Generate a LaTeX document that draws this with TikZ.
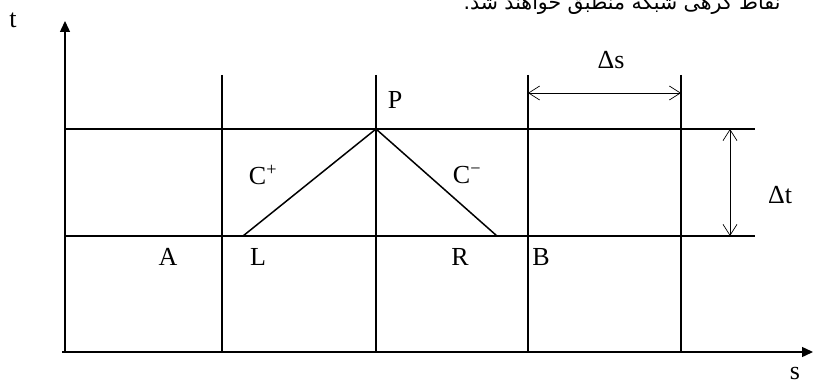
\documentclass[tikz,border=0pt]{standalone}
\usepackage{fontspec}
\setmainfont{Liberation Serif}
\newfontfamily\arabicfont[Script=Arabic]{DejaVu Sans}
\TeXXeTstate=1
\usetikzlibrary{arrows.meta}
\begin{document}
\begin{tikzpicture}[x=1pt,y=-1pt,
  gridline/.style={line width=1.1pt},
  axisline/.style={line width=1.4pt,-{Triangle[length=11pt,width=10pt]}},
  charline/.style={line width=1.5pt},
  dimline/.style={line width=0.7pt,{Straight Barb[length=11pt,width=14pt]}-{Straight Barb[length=11pt,width=14pt]}},
  lab/.style={inner sep=0pt,font=\fontsize{26}{30}\selectfont}]
\useasboundingbox (0,0) rectangle (814,385);
% coordinates
\coordinate (sstart) at (62,352);
\coordinate (O) at (65,352);
\coordinate (ttip) at (65,21);
\coordinate (stip) at (813,352);
\coordinate (v1t) at (222,75); \coordinate (v1b) at (222,352);
\coordinate (v2t) at (376,75); \coordinate (v2b) at (376,352);
\coordinate (v3t) at (528,75); \coordinate (v3b) at (528,352);
\coordinate (v4t) at (681,75); \coordinate (v4b) at (681,352);
\coordinate (h1l) at (65,129); \coordinate (h1r) at (755,129);
\coordinate (h2l) at (65,236); \coordinate (h2r) at (755,236);
\coordinate (Pp) at (376,129);
\coordinate (Lp) at (243,236);
\coordinate (Rp) at (497,236);
\coordinate (ds1) at (528,93); \coordinate (ds2) at (681,93);
\coordinate (dt1) at (730,129); \coordinate (dt2) at (730,236);
% grid
\draw[gridline] (v1t) -- (v1b);
\draw[gridline] (v2t) -- (v2b);
\draw[gridline] (v3t) -- (v3b);
\draw[gridline] (v4t) -- (v4b);
\draw[gridline] (h1l) -- (h1r);
\draw[gridline] (h2l) -- (h2r);
% axes
\draw[axisline] (O) -- (ttip);
\draw[axisline] (sstart) -- (stip);
% characteristics
\draw[charline] (Lp) -- (Pp) -- (Rp);
% dimensions
\draw[dimline] (ds1) -- (ds2);
\draw[dimline] (dt1) -- (dt2);
% labels
\node[lab] (tl) at (13,20) {t};
\node[lab] (sl) at (795,373) {s};
\node[lab] (pl) at (395,100) {P};
\node[lab] (cp) at (263,175) {C\textsuperscript{+}};
\node[lab] (cm) at (467,175) {C\textsuperscript{−}};
\node[lab] (al) at (168,257) {A};
\node[lab] (ll) at (258,257) {L};
\node[lab] (rl) at (460,257) {R};
\node[lab] (bl) at (541,257) {B};
\node[lab] (dsl) at (611,60) {Δs};
\node[lab] (dtl) at (780,195) {Δt};
\node[anchor=base,inner sep=0pt,font=\arabicfont\fontsize{20.5}{24}\selectfont] (fa) at (622,10) {\beginR نقاط گرهی شبکه منطبق خواهند شد.\endR};
\end{tikzpicture}
\end{document}
